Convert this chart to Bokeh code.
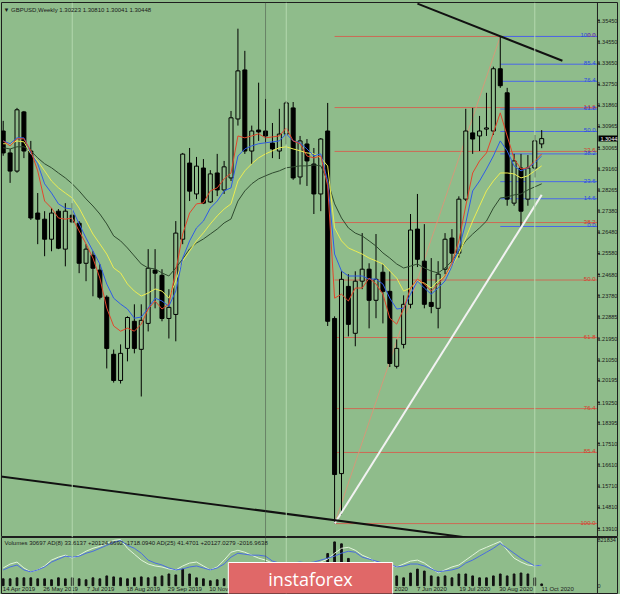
from bokeh.plotting import figure
from bokeh.models import ColumnDataSource, Range1d, LinearAxis, FixedTicker, Span, Label
from bokeh.layouts import column
from bokeh.embed import file_html
from bokeh.resources import INLINE
from bokeh.core.properties import value

# ---------------- data (GBPUSD weekly) ----------------
weeks = list(range(79))
opens = [1.3077,1.2984,1.2907,1.3158,1.2992,1.2729,1.2703,1.2618,1.2737,1.2576,
         1.2720,1.2686,1.2516,1.2550,1.2487,1.2372,1.2130,1.2019,1.2155,1.2270,
         1.2151,1.2261,1.2487,1.2465,1.2282,1.2299,1.2618,1.2941,1.2810,1.2920,
         1.2776,1.2899,1.2827,1.2878,1.3128,1.3336,1.2992,1.3081,1.3077,1.3026,
         1.2992,1.3064,1.3175,1.2882,1.3022,1.2937,1.2810,1.3077,1.2282,1.1624,
         1.2418,1.2219,1.2440,1.2491,1.2359,1.2478,1.2397,1.2079,1.2172,1.2342,
         1.2661,1.2525,1.2350,1.2325,1.2491,1.2623,1.2559,1.2788,1.3069,1.3056,
         1.3085,1.3077,1.3341,1.3239,1.2771,1.2920,1.2788,1.2920,1.30223]
highs = [1.3120,1.3001,1.3175,1.3162,1.3035,1.2814,1.2737,1.2750,1.2746,1.2771,
         1.2771,1.2695,1.2597,1.2567,1.2512,1.2380,1.2150,1.2172,1.2291,1.2342,
         1.2342,1.2576,1.2576,1.2491,1.2406,1.2695,1.2984,1.3005,1.2967,1.2958,
         1.2911,1.2980,1.2950,1.3162,1.3511,1.3417,1.3100,1.3282,1.3213,1.3111,
         1.3171,1.3205,1.3200,1.3056,1.3043,1.3005,1.3047,1.3196,1.2291,1.2482,
         1.2470,1.2482,1.2644,1.2516,1.2640,1.2512,1.2482,1.2193,1.2380,1.2725,
         1.2810,1.2682,1.2538,1.2525,1.2644,1.2661,1.2800,1.3171,1.3175,1.3141,
         1.3239,1.3350,1.3478,1.3260,1.2980,1.2980,1.2975,1.3060,1.30810]
lows = [1.2972,1.2857,1.2900,1.2962,1.2700,1.2597,1.2546,1.2567,1.2576,1.2503,
        1.2686,1.2474,1.2440,1.2376,1.2363,1.2070,1.2010,1.2006,1.2100,1.2134,
        1.1951,1.2227,1.2325,1.2270,1.2197,1.2185,1.2597,1.2780,1.2788,1.2767,
        1.2772,1.2801,1.2810,1.2865,1.3100,1.2980,1.2937,1.3035,1.3030,1.2962,
        1.2958,1.3020,1.2870,1.2850,1.2844,1.2725,1.2737,1.2250,1.1412,1.1450,
        1.2206,1.2164,1.2406,1.2240,1.2283,1.2261,1.2076,1.2070,1.2155,1.2325,
        1.2500,1.2325,1.2304,1.2240,1.2470,1.2520,1.2540,1.2780,1.2980,1.2992,
        1.3056,1.3060,1.3260,1.2760,1.2760,1.2672,1.2760,1.2880,1.30041]
closes = [1.2984,1.2907,1.3167,1.2992,1.2708,1.2703,1.2618,1.2729,1.2580,1.2737,
          1.2691,1.2516,1.2576,1.2495,1.2372,1.2155,1.2019,1.2134,1.2286,1.2155,
          1.2274,1.2495,1.2474,1.2282,1.2329,1.2644,1.2979,1.2822,1.2928,1.2771,
          1.2895,1.2827,1.2925,1.3133,1.3332,1.2992,1.3077,1.3073,1.3056,1.3001,
          1.3064,1.3196,1.2878,1.3035,1.2950,1.2810,1.3043,1.2270,1.1620,1.2448,
          1.2257,1.2440,1.2491,1.2359,1.2448,1.2397,1.2091,1.2155,1.2342,1.2657,
          1.2533,1.2342,1.2333,1.2470,1.2618,1.2559,1.2788,1.3077,1.3043,1.3077,
          1.3090,1.3341,1.3269,1.2788,1.2950,1.2737,1.2920,1.3035,1.30448]
volumes = [122400,122400,139900,139900,139900,122400,122400,104900,139900,122400,
           139900,122400,104900,139900,122400,174900,157400,139900,122400,139900,
           157400,139900,157400,174900,209800,192300,297300,209800,139900,122400,
           87400,104900,122400,157400,227300,174900,122400,104900,104900,122400,
           104900,139900,122400,122400,139900,174900,244800,577000,786900,751900,
           489600,314700,244800,209800,209800,192300,227300,174900,139900,227300,
           297300,262300,174900,157400,174900,139900,209800,209800,174900,139900,
           139900,174900,209800,174900,209800,227300,209800,139900,30697]
ma_red = [1.3035,1.3014,1.3044,1.3044,1.2993,1.2908,1.2780,1.2750,1.2708,1.2703,
          1.2708,1.2653,1.2598,1.2538,1.2453,1.2326,1.2250,1.2228,1.2241,1.2228,
          1.2258,1.2322,1.2356,1.2322,1.2343,1.2483,1.2640,1.2729,1.2768,1.2772,
          1.2823,1.2836,1.2874,1.2899,1.3056,1.3048,1.3056,1.3065,1.3048,1.3052,
          1.3056,1.3090,1.3035,1.3023,1.2971,1.2963,1.2971,1.2844,1.2368,1.2385,
          1.2356,1.2411,1.2411,1.2453,1.2428,1.2385,1.2283,1.2258,1.2322,1.2411,
          1.2449,1.2428,1.2398,1.2428,1.2462,1.2517,1.2611,1.2759,1.2899,1.2950,
          1.2984,1.3069,1.3154,1.3056,1.2959,1.2916,1.2921,1.2950,1.2980]
ma_blue = [1.3035,1.3023,1.3048,1.3048,1.2984,1.2938,1.2853,1.2814,1.2768,1.2750,
           1.2746,1.2683,1.2623,1.2568,1.2513,1.2428,1.2368,1.2343,1.2322,1.2283,
           1.2288,1.2326,1.2368,1.2356,1.2334,1.2398,1.2538,1.2611,1.2666,1.2695,
           1.2750,1.2780,1.2823,1.2836,1.2971,1.3001,1.3014,1.3023,1.3027,1.3031,
           1.3035,1.3065,1.3035,1.3027,1.3001,1.2971,1.2980,1.2865,1.2555,1.2483,
           1.2462,1.2462,1.2462,1.2449,1.2449,1.2428,1.2368,1.2322,1.2326,1.2385,
           1.2441,1.2411,1.2385,1.2411,1.2441,1.2504,1.2577,1.2687,1.2823,1.2865,
           1.2916,1.2971,1.3035,1.2993,1.2929,1.2908,1.2921,1.2942,1.2971]
ma_yellow = [1.3023,1.3023,1.3035,1.3031,1.2980,1.2950,1.2908,1.2865,1.2836,1.2814,
             1.2793,1.2750,1.2695,1.2640,1.2598,1.2555,1.2496,1.2475,1.2428,1.2398,
             1.2377,1.2390,1.2407,1.2398,1.2368,1.2441,1.2526,1.2568,1.2611,1.2645,
             1.2683,1.2717,1.2746,1.2768,1.2865,1.2908,1.2938,1.2963,1.2980,1.2993,
             1.3006,1.3010,1.3001,1.2993,1.2984,1.2980,1.2963,1.2929,1.2666,1.2611,
             1.2581,1.2568,1.2555,1.2538,1.2526,1.2513,1.2483,1.2453,1.2398,1.2411,
             1.2441,1.2432,1.2411,1.2441,1.2462,1.2504,1.2555,1.2623,1.2695,1.2759,
             1.2823,1.2865,1.2899,1.2899,1.2895,1.2878,1.2887,1.2908,1.2929]
ma_dark = [1.3006,1.3001,1.3010,1.3010,1.2993,1.2963,1.2938,1.2921,1.2899,1.2878,
           1.2853,1.2823,1.2789,1.2759,1.2725,1.2683,1.2632,1.2611,1.2581,1.2547,
           1.2513,1.2496,1.2492,1.2475,1.2462,1.2496,1.2534,1.2577,1.2602,1.2619,
           1.2640,1.2661,1.2687,1.2704,1.2780,1.2823,1.2853,1.2874,1.2887,1.2899,
           1.2908,1.2921,1.2925,1.2929,1.2929,1.2933,1.2929,1.2865,1.2768,1.2708,
           1.2666,1.2644,1.2632,1.2611,1.2589,1.2560,1.2538,1.2513,1.2496,1.2504,
           1.2513,1.2496,1.2483,1.2475,1.2496,1.2526,1.2568,1.2611,1.2640,1.2666,
           1.2695,1.2750,1.2793,1.2797,1.2806,1.2810,1.2827,1.2840,1.2853]
ad_blue = [15,18,20,15,13,15,18,23,26,29, 28,29,32,34,37,40,43,45,40,37,
           32,25,22,20,17,15,16,18,19,17, 15,17,21,28,32,31,30,30,29,24,
           22,22,22,23,22,23,25,27,29,32, 34,33,28,26,24,22,21,18,19,21,
           21,19,16,13,14,15,17,22,25,29, 33,37,42,37,32,27,23,19,20]
ad_light = [17,21,23,17,13,15,19,25,28,30, 27,30,34,37,39,42,45,46,37,31,
            25,21,19,18,16,15,19,22,23,19, 15,18,25,33,35,33,30,27,25,22,
            20,20,20,21,20,21,23,26,32,37, 38,35,30,27,23,21,20,18,21,24,
            25,22,17,12,15,18,20,25,30,35, 38,41,44,35,27,23,20,19,20]

price_labels = ["1.35450","1.34550","1.33650","1.32750","1.31860","1.30965","1.30065",
                "1.29160","1.28265","1.27380","1.26480","1.25580","1.24680","1.23780",
                "1.22885","1.21950","1.21050","1.20195","1.19250","1.18395","1.17510",
                "1.16610","1.15710","1.14810","1.13910"]
vol_labels = ["0", "821834"]
date_weeks = [0, 6, 12, 18, 24, 30, 36, 42, 48, 54, 60, 66, 72, 78]
date_labels = ["14 Apr 2019","26 May 2019","7 Jul 2019","18 Aug 2019","29 Sep 2019",
               "10 Nov 2019","22 Dec 2019","2 Feb 2020","15 Mar 2020","26 Apr 2020",
               "7 Jun 2020","19 Jul 2020","30 Aug 2020","11 Oct 2020"]
fib_pcts = [0.0, 14.6, 23.6, 38.2, 50.0, 61.8, 76.4, 85.4, 100.0]
fib_red_from = 48      # swing low week (March 2020)
fib_blue_from = 72     # swing high week (Sept 2020)
fib_blue_low_week = 75
separator_weeks = [10, 41, 77]
dotted_sep_week = 38
white_trend_x = [48, 78]
white_trend_y = [1.1412, 1.2806]
top_trend_x = [60, 81]
top_trend_y = [1.3617, 1.3375]
bottom_trend_x = [-0.4, 68.2]
bottom_trend_y = [1.1612, 1.1349]

# ---------------- styling ----------------
BG = "#8FBC8B"
FONT = value("Liberation Sans")
X0, XEND = -0.246, 88.98
X1 = 86.08                   # price-scale separator (end of chart area)

up = [c >= o for o, c in zip(opens, closes)]
src = ColumnDataSource(dict(
    x=weeks, h=highs, l=lows,
    top=[max(o, c) for o, c in zip(opens, closes)],
    bottom=[min(o, c) for o, c in zip(opens, closes)],
    fill=[BG if u else "#000000" for u in up],
    vol=volumes))

p = figure(width=620, height=537, x_range=Range1d(X0, XEND), y_range=Range1d(1.1353, 1.3622),
           x_axis_location=None, y_axis_location=None, output_backend="svg",
           toolbar_location=None, background_fill_color=BG, border_fill_color=BG,
           min_border_left=1, min_border_right=0, min_border_top=2, min_border_bottom=0,
           outline_line_color="#1e1e1e", outline_line_width=1)
p.grid.visible = False

for w in separator_weeks:
    p.add_layout(Span(location=w, dimension="height", line_color="#b4d8ae", line_width=1))
p.add_layout(Span(location=dotted_sep_week, dimension="height", line_color="#404a40",
                  line_width=1, line_dash="1 1"))

# fibonacci levels
hi = highs[fib_blue_from]
lo_red = lows[fib_red_from]
lo_blue = lows[fib_blue_low_week]
red_lv = [hi - (hi - lo_red) * f / 100 for f in fib_pcts]
blue_lv = [lo_blue + (hi - lo_blue) * f / 100 for f in fib_pcts]
p.segment(x0=[fib_red_from] * 9, x1=[X1] * 9, y0=red_lv, y1=red_lv, line_color="#cc6a55", line_width=1)
p.segment(x0=[fib_blue_from] * 9, x1=[X1] * 9, y0=blue_lv, y1=blue_lv, line_color="#4a68e8", line_width=1)

# zigzag (low -> high)
p.line([fib_red_from, fib_blue_from], [lo_red, hi], line_color="#d29a7a", line_width=1)

# candles
p.segment(x0="x", x1="x", y0="l", y1="h", source=src, line_color="#000000", line_width=1)
p.vbar(x="x", top="top", bottom="bottom", width=0.58, source=src,
       fill_color="fill", line_color="#000000", line_width=1)

# moving averages
p.line(weeks, ma_dark, line_color="#2f4a2f", line_width=1)
p.line(weeks, ma_yellow, line_color="#ecec52", line_width=1)
p.line(weeks, ma_blue, line_color="#2f5ce6", line_width=1)
p.line(weeks, ma_red, line_color="#e2462c", line_width=1)

# trend lines
p.line(white_trend_x, white_trend_y, line_color="#f2f2f2", line_width=2)
p.line(top_trend_x, top_trend_y, line_color="#111111", line_width=2)
p.line(bottom_trend_x, bottom_trend_y, line_color="#111111", line_width=2)

# fib labels
p.text(x=[X1] * 9, y=red_lv, text=["%.1f" % f for f in fib_pcts], text_font=FONT,
       text_font_size="6px", text_color="#d63a2a", text_align="right", text_baseline="bottom",
       x_offset=-2, y_offset=1)
p.text(x=[X1] * 9, y=blue_lv, text=["%.1f" % f for f in fib_pcts], text_font=FONT,
       text_font_size="6px", text_color="#2a48e0", text_align="right", text_baseline="bottom",
       x_offset=-2, y_offset=1)

# price scale (separator line, tick marks, labels)
ticks = [float(s) for s in price_labels]
p.add_layout(Span(location=X1, dimension="height", line_color="#1e1e1e", line_width=1))
p.segment(x0=[X1] * len(ticks), x1=[X1 + 0.35] * len(ticks), y0=ticks, y1=ticks,
          line_color="#1e1e1e", line_width=1)
ax = LinearAxis(ticker=FixedTicker(ticks=ticks),
                major_label_overrides={t: s for t, s in zip(ticks, price_labels)},
                major_label_text_font="Liberation Sans", major_label_text_font_size="5.5px",
                major_label_text_color="#1a1a1a", axis_line_color=None,
                major_tick_line_color=None, major_tick_out=0, major_tick_in=0,
                minor_tick_out=0, minor_tick_in=0, major_label_standoff=-20)
p.add_layout(ax, "right")

p.add_layout(Label(x=X1, y=closes[-1], text="1.30448", text_font="Liberation Sans",
                   text_font_size="5.5px", text_color="white", text_align="left",
                   text_baseline="middle", x_offset=1, background_fill_color="black",
                   padding=(2, 1)))
p.add_layout(Label(x=2, y=528, x_units="screen", y_units="screen",
                   text="\u25bc GBPUSD,Weekly  1.30223 1.30810 1.30041 1.30448",
                   text_font="Liberation Sans", text_font_size="6px", text_color="#1a1a1a",
                   text_baseline="middle"))

# ---------------- volume pane ----------------
pv = figure(width=620, height=57, x_range=p.x_range, y_range=Range1d(-141400, 866000),
            x_axis_location=None, y_axis_location=None, output_backend="svg",
            toolbar_location=None, background_fill_color=BG, border_fill_color=BG,
            min_border_left=1, min_border_right=0, min_border_top=0, min_border_bottom=0,
            outline_line_color="#1e1e1e", outline_line_width=1)
pv.grid.visible = False
pv.extra_y_ranges = {"ad": Range1d(-9, 48)}
for w in separator_weeks:
    pv.add_layout(Span(location=w, dimension="height", line_color="#b4d8ae", line_width=1))
pv.add_layout(Span(location=dotted_sep_week, dimension="height", line_color="#404a40",
                   line_width=1, line_dash="1 1"))
pv.add_layout(Span(location=X1, dimension="height", line_color="#1e1e1e", line_width=1))
pv.vbar(x="x", top="vol", bottom=0, width=0.25, source=src, color="#111111")
pv.line(weeks, ad_light, y_range_name="ad", line_color="#e2f4dc", line_width=1)
pv.line(weeks, ad_blue, y_range_name="ad", line_color="#4a6ce0", line_width=1)

vticks = [float(s) for s in vol_labels]
vax = LinearAxis(ticker=FixedTicker(ticks=vticks),
                 major_label_overrides={t: s for t, s in zip(vticks, vol_labels)},
                 major_label_text_font="Liberation Sans", major_label_text_font_size="5.5px",
                 major_label_text_color="#1a1a1a", axis_line_color=None,
                 major_tick_line_color=None, major_tick_out=0, major_tick_in=0,
                 minor_tick_out=0, minor_tick_in=0, major_label_standoff=-20)
pv.add_layout(vax, "right")
# MT4 prints the date text starting at the bar, so the centred tick label is shifted right
date_ticks = [w + len(s) * 0.21 for w, s in zip(date_weeks, date_labels)]
dax = LinearAxis(ticker=FixedTicker(ticks=date_ticks),
                 major_label_overrides={t: s for t, s in zip(date_ticks, date_labels)},
                 major_label_text_font="Liberation Sans", major_label_text_font_size="6px",
                 major_label_text_color="#1a1a1a", axis_line_color=None,
                 major_tick_line_color=None, major_tick_out=0, major_tick_in=0,
                 minor_tick_out=0, minor_tick_in=0, major_label_standoff=-8)
pv.add_layout(dax, "below")

pv.add_layout(Label(x=3, y=51, x_units="screen", y_units="screen",
                    text="Volumes 30697  AD(8) 33.6137 +20124.6692 -1718.0940  AD(25) 41.4701 +20127.0279 -2016.9638",
                    text_font="Liberation Sans", text_font_size="6px", text_color="#1a1a1a",
                    text_baseline="middle"))
pv.add_layout(Label(x=309, y=15, x_units="screen", y_units="screen", text="instaforex",
                    text_font="Open Sans", text_font_size="18px", text_color="white",
                    text_align="center", text_baseline="middle",
                    background_fill_color="#e06868", border_line_color="white",
                    border_line_width=1, padding=(40, 4)))

layout = column(p, pv, spacing=0)
html = file_html(layout, INLINE)
html = html.replace("<head>", "<head><style>html,body{margin:0;padding:0;overflow:hidden;background:#8FBC8B;}</style>", 1)
open("out.html", "w").write(html)
